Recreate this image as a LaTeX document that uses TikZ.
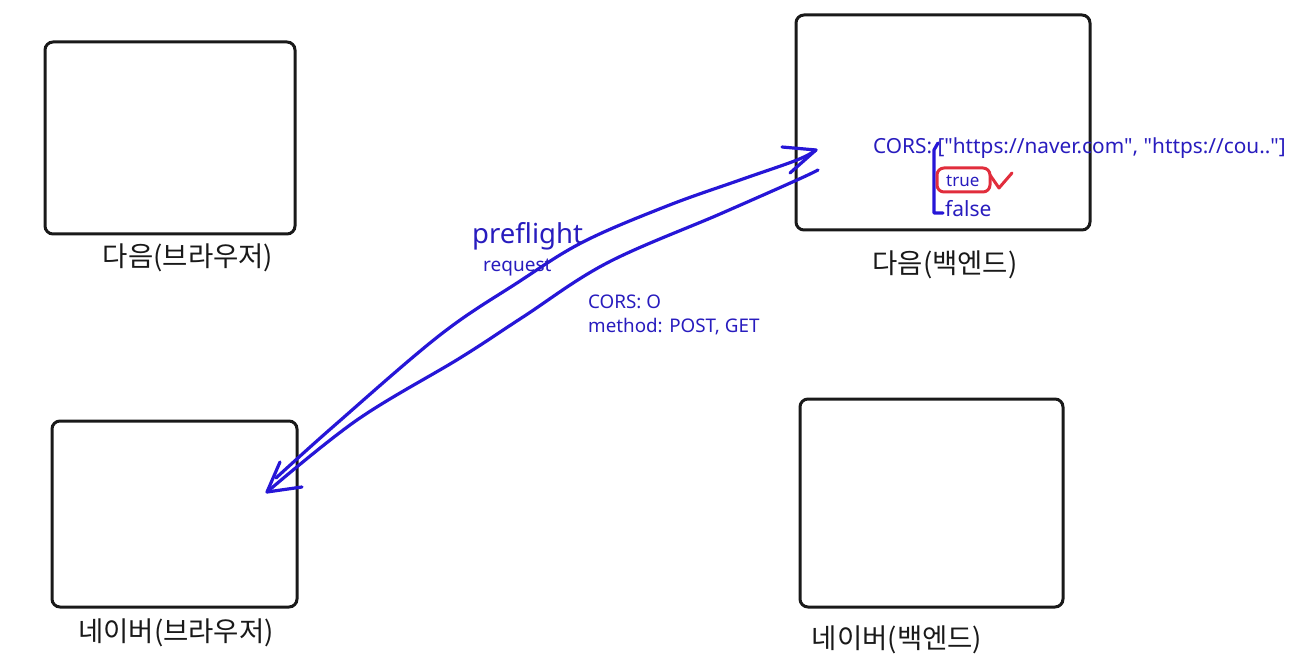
\documentclass[tikz,border=0pt]{standalone}
\usepackage{fontspec}
\setmainfont{Noto Sans}
\newfontfamily\kr{Noto Sans CJK KR}
\usetikzlibrary{positioning}
\definecolor{penblue}{RGB}{38,22,215}
\definecolor{txtblue}{RGB}{40,28,190}
\definecolor{penred}{RGB}{225,45,60}
\definecolor{ink}{RGB}{25,25,25}
\newcommand{\qq}{\textquotedbl}
\tikzset{
  box/.style={draw=ink, line width=3pt, rounded corners=8pt, outer sep=0pt, inner sep=0pt},
  klabel/.style={text=ink, font=\kr\fontsize{27.5}{29}\selectfont, inner sep=0pt},
  pen/.style={draw=penblue, line width=3.2pt, line cap=round, line join=round},
  redpen/.style={draw=penred, line width=3pt, line cap=round, line join=round},
  btext/.style={text=txtblue, inner sep=0pt, anchor=west},
}
\begin{document}
\begin{tikzpicture}[x=1pt,y=-1pt]
\useasboundingbox (0,0) rectangle (1299,663);
% boxes
\node[box, minimum width=250pt, minimum height=192pt, anchor=north west] (daumbr) at (45,42) {};
\node[box, minimum width=294pt, minimum height=215pt, anchor=north west] (daumbe) at (796,15) {};
\node[box, minimum width=245pt, minimum height=186pt, anchor=north west] (navbr) at (52,421) {};
\node[box, minimum width=263pt, minimum height=208pt, anchor=north west] (navbe) at (800,399) {};
% labels
\node[klabel] (l1) at (188,258) {다음(브라우저)};
\node[klabel] (l2) at (945,265) {다음(백엔드)};
\node[klabel] (l3) at (176,633) {네이버(브라우저)};
\node[klabel] (l4) at (897,640) {네이버(백엔드)};
% pen strokes
\coordinate (tipR) at (816,150);
\coordinate (tipL) at (267,492);
\draw[pen] plot[smooth, tension=0.6] coordinates {(276,478) (335,425) (440,335) (517,283) (583,242) (667,206) (740,180) (797,160) (tipR)};
\draw[pen] (782,147) -- (tipR) -- (790,173);
\draw[pen] plot[smooth, tension=0.6] coordinates {(818,170) (797,180) (720,214) (607,263) (523,317) (460,358) (357,420) (tipL)};
\draw[pen] (280,462) -- (tipL) -- (302,487);
% texts
\node[btext, font=\fontsize{27.5}{29}\selectfont] (pf) at (472,236) {preflight};
\node[btext, font=\fontsize{19}{21}\selectfont] (rq) at (483,268) {request};
\node[btext, font=\fontsize{18.8}{20}\selectfont] (c1) at (588,302) {CORS: O};
\node[btext, font=\fontsize{18.8}{20}\selectfont] (c2) at (588,327) {method: POST, GET};
\node[btext, font=\fontsize{20.8}{22}\selectfont] (cors) at (873,148) {CORS: [\qq https://naver.com\qq, \qq https://cou..\qq]};
\node[btext, font=\fontsize{17}{19}\selectfont] (tr) at (946,181) {true};
\node[btext, font=\fontsize{21}{23}\selectfont] (fl) at (945,209) {false};
% bracket
\draw[pen] (938,143) -- (934,150) -- (934,213) -- (943,213);
% red marks
\node[redpen, rounded corners=7pt, minimum width=53pt, minimum height=24pt, outer sep=0pt, anchor=north west] (tbox) at (937,168) {};
\draw[redpen] (990,175) -- (999,188) -- (1012,173);
\end{tikzpicture}
\end{document}
